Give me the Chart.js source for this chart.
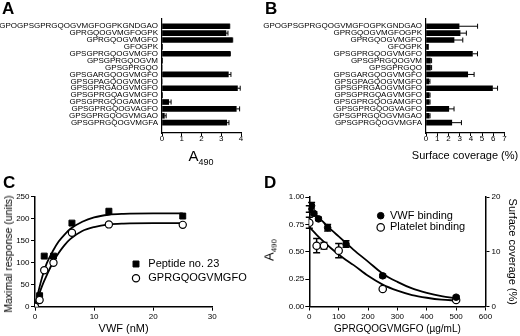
<!DOCTYPE html>
<html lang="en">
<head>
<meta charset="UTF-8">
<title>Peptide binding</title>
<script src="https://cdn.jsdelivr.net/npm/chart.js@4"></script>
<style>
    body { margin: 0; background: #fff; width: 520px; height: 336px; position: relative; overflow: hidden;
           font-family: "Liberation Sans", Arial, sans-serif; color: #000; }
    canvas { position: absolute; }
    .letter { position: absolute; font-weight: bold; font-size: 17px; line-height: 17px; }
    .txt { position: absolute; white-space: nowrap; }
    .txt span { position: relative; }
</style>
</head>
<body>
<canvas id="chartA" width="260" height="170" style="left:0;top:0"></canvas>
<canvas id="chartB" width="260" height="170" style="left:260px;top:0"></canvas>
<canvas id="chartC" width="260" height="166" style="left:0;top:170px"></canvas>
<canvas id="chartD" width="260" height="166" style="left:260px;top:170px"></canvas>

<div class="letter" style="left:2px;top:0">A</div>
<div class="letter" style="left:265px;top:0">B</div>
<div class="letter" style="left:3px;top:174px">C</div>
<div class="letter" style="left:264px;top:174px">D</div>

<!-- axis titles that are too long for the axis, or need a subscript -->
<div class="txt" style="left:171px;top:147.5px;width:60px;text-align:center;font-size:15px;line-height:15px">A<span style="font-size:9px;top:4px">490</span></div>
<div class="txt" style="left:405px;top:148.5px;width:120px;text-align:center;font-size:11px;line-height:13px">Surface coverage (%)</div>
<div class="txt" style="left:8px;top:254px;transform:translate(-50%,-50%) rotate(-90deg);font-size:10.5px;line-height:12px">Maximal response (units)</div>
<div class="txt" style="left:269.5px;top:250px;transform:translate(-50%,-50%) rotate(-90deg);font-size:13px;line-height:13px">A<span style="font-size:8px;top:3px">490</span></div>

<script>
// peptides, top to bottom (panels A and B)
var peptides = ['GPOGPSGPRGQOGVMGFOGPKGNDGAO', 'GPRGQOGVMGFOGPK', 'GPRGQOGVMGFO', 'GFOGPK',
    'GPSGPRGQOGVMGFO', 'GPSGPRGQOGVM', 'GPSGPRGQO', 'GPSGARGQOGVMGFO', 'GPSGPAGQOGVMGFO',
    'GPSGPRGAOGVMGFO', 'GPSGPRGQAGVMGFO', 'GPSGPRGQOGAMGFO', 'GPSGPRGQOGVAGFO',
    'GPSGPRGQOGVMGAO', 'GPSGPRGQOGVMGFA'];

// A: VWF binding (A490)
var a490 = [3.41, 3.24, 3.55, 0.03, 3.43, 0.02, 0, 3.36, 0, 3.82, 0.03, 0.34, 3.76, 0.12, 3.28];
var a490Err = [0.02, 0.1, 0.03, 0, 0.03, 0, 0, 0.13, 0, 0.14, 0, 0.12, 0.17, 0.09, 0.11];
var aTicks = [0, 1, 2, 3, 4];

// B: platelet surface coverage (%)
var coverage = [2.95, 3.04, 2.5, 0.22, 4.14, 0.4, 0.4, 3.72, 0.25, 5.93, 0.28, 0.28, 2.03, 0.28, 2.3];
var coverageErr = [1.65, 0.56, 0.78, 0, 0.45, 0.1, 0.1, 0.57, 0.1, 0.45, 0.08, 0.08, 0.47, 0.08, 0.86];
var bTicks = [0, 1, 2, 3, 4, 5, 6, 7];

// C: maximal response vs VWF (nM)
var vwfNM = [0, 0.78, 1.56, 3.125, 6.25, 12.5, 25];
var pep23 = [0, 25, 115, 115, 190, 217, 206];
var gprC = [0, 15, 83, 100, 168, 187, 186];
var fitXC = [0, 0.5, 1, 1.5, 2, 3, 4, 5, 6, 8, 10, 12.5, 15, 20, 25];
var fitPep23 = [0, 30, 57, 80, 99, 126, 148, 164, 177, 193, 203, 209, 211, 212, 212];
var fitGprC = [0, 20, 40, 57, 72, 100, 122, 140, 154, 172, 181, 187, 189, 190, 190];

// D: inhibition by GPRGQOGVMGFO (ug/mL)
var concVwf = [0, 7.8, 15.6, 31.25, 62.5, 125, 250, 500];
var vwfBinding = [0.89, 0.92, 0.85, 0.80, 0.72, 0.57, 0.28, 0.085];
var vwfBindingErr = [0.03, 0.03, 0.015, 0.015, 0.03, 0.03, 0.015, 0.01];
var concPlt = [0, 25, 50, 100, 250, 500];
var pltBinding = [15.3, 11.1, 11.1, 10.2, 3.2, 1.2];
var pltBindingErr = [1.0, 1.3, 0.6, 1.3, 0.2, 0.2];
var fitXD = [0, 25, 50, 75, 100, 125, 150, 200, 250, 300, 350, 400, 450, 500];
var fitVwf = [0.90, 0.83, 0.765, 0.70, 0.64, 0.58, 0.52, 0.41, 0.30, 0.225, 0.165, 0.125, 0.095, 0.075];
var fitPlt = [14.5, 13.1, 11.8, 10.6, 9.5, 8.5, 7.6, 5.6, 4.0, 2.9, 2.1, 1.6, 1.25, 1.1];

var F = '"Liberation Sans", Arial, sans-serif';
Chart.defaults.font.family = F;
Chart.defaults.color = '#000';

function pairs(xs, ys) {
    return xs.map(function(x, i) { return {x: x, y: ys[i]}; });
}

function tickMarks(len) {
    return {display: true, drawOnChartArea: false, drawTicks: true, tickLength: len, color: '#000', lineWidth: 1};
}

// error bars, drawn under the marks
var errorBars = {
    id: 'errorBars',
    beforeDatasetsDraw: function(chart, args, opts) {
        var ctx = chart.ctx;
        var horiz = chart.options.indexAxis === 'y';
        ctx.save();
        ctx.strokeStyle = '#000';
        ctx.lineWidth = opts.width;
        chart.data.datasets.forEach(function(ds, di) {
            if (!ds.errors) return;
            var meta = chart.getDatasetMeta(di);
            var vScale = chart.scales[horiz ? meta.xAxisID : meta.yAxisID];
            meta.data.forEach(function(el, i) {
                var e = ds.errors[i];
                if (!e) return;
                ctx.beginPath();
                if (horiz) {
                    var x1 = vScale.getPixelForValue(ds.data[i].x + e);
                    ctx.moveTo(el.x, el.y); ctx.lineTo(x1, el.y);
                    ctx.moveTo(x1, el.y - opts.cap); ctx.lineTo(x1, el.y + opts.cap);
                } else {
                    var y1 = vScale.getPixelForValue(ds.data[i].y + e);
                    var y2 = vScale.getPixelForValue(ds.data[i].y - e);
                    ctx.moveTo(el.x, y1); ctx.lineTo(el.x, y2);
                    ctx.moveTo(el.x - opts.cap, y1); ctx.lineTo(el.x + opts.cap, y1);
                    ctx.moveTo(el.x - opts.cap, y2); ctx.lineTo(el.x + opts.cap, y2);
                }
                ctx.stroke();
            });
        });
        ctx.restore();
    }
};

// small legend placed inside the plot
var legendAt = {
    id: 'legendAt',
    afterDraw: function(chart, args, opts) {
        if (!opts.x) return;
        var ctx = chart.ctx;
        var row = 0;
        ctx.save();
        ctx.font = opts.size + 'px ' + F;
        ctx.textBaseline = 'middle';
        chart.data.datasets.forEach(function(ds) {
            if (!ds.inLegend) return;
            var y = opts.y + row * opts.gap;
            ctx.fillStyle = ds.backgroundColor;
            ctx.strokeStyle = ds.borderColor;
            ctx.lineWidth = ds.borderWidth;
            Chart.helpers.drawPoint(ctx, {pointStyle: ds.pointStyle, radius: ds.pointRadius, rotation: 0, borderWidth: ds.borderWidth}, opts.x, y);
            ctx.fillStyle = '#000';
            ctx.fillText(ds.label, opts.x + opts.textGap, y);
            row++;
        });
        ctx.restore();
    }
};

function barPanel(id, values, errs, ticks, yWidth, padRight) {
    return new Chart(document.getElementById(id), {
        type: 'bar',
        data: {
            datasets: [{
                data: peptides.map(function(p, i) { return {x: values[i], y: i}; }),
                errors: errs,
                backgroundColor: '#000',
                borderWidth: 0,
                barThickness: 5
            }]
        },
        options: {
            indexAxis: 'y',
            responsive: false,
            animation: false,
            layout: {padding: {left: 0, top: 19, right: padRight, bottom: 0}},
            plugins: {
                legend: {display: false},
                tooltip: {enabled: false},
                errorBars: {width: 1, cap: 2.5}
            },
            scales: {
                x: {
                    type: 'linear', min: 0, max: ticks[ticks.length - 1],
                    afterBuildTicks: function(s) { s.ticks = ticks.map(function(v) { return {value: v}; }); },
                    ticks: {font: {size: 8}, color: '#000', padding: -2},
                    grid: tickMarks(3),
                    border: {display: true, color: '#000', width: 1.2},
                    afterFit: function(s) { s.height = 37; }
                },
                y: {
                    type: 'linear', reverse: true, min: -0.5, max: 14.95,
                    afterBuildTicks: function(s) { s.ticks = peptides.map(function(p, i) { return {value: i}; }); },
                    ticks: {autoSkip: false, font: {size: 8}, color: '#000', padding: 4,
                        callback: function(v) { return peptides[v]; }},
                    grid: {display: false, drawTicks: false},
                    border: {display: true, color: '#000', width: 1.2},
                    afterFit: function(s) { s.width = yWidth; }
                }
            }
        },
        plugins: [errorBars]
    });
}

barPanel('chartA', a490, a490Err, aTicks, 162, 19);
barPanel('chartB', coverage, coverageErr, bTicks, 166, 15.5);

// C
new Chart(document.getElementById('chartC'), {
    type: 'scatter',
    data: {
        datasets: [
            {label: 'Peptide no. 23', inLegend: true, data: pairs(vwfNM, pep23), pointStyle: 'rect', pointRadius: 4.2,
             backgroundColor: '#000', borderColor: '#000', borderWidth: 1, order: 1},
            {label: 'GPRGQOGVMGFO', inLegend: true, data: pairs(vwfNM, gprC), pointStyle: 'circle', pointRadius: 3.6,
             backgroundColor: '#fff', borderColor: '#000', borderWidth: 1.2, order: 0},
            {label: 'fit 23', data: pairs(fitXC, fitPep23), showLine: true, pointRadius: 0, borderColor: '#000',
             borderWidth: 1.8, cubicInterpolationMode: 'monotone', order: 2},
            {label: 'fit GPRG', data: pairs(fitXC, fitGprC), showLine: true, pointRadius: 0, borderColor: '#000',
             borderWidth: 1.8, cubicInterpolationMode: 'monotone', order: 2}
        ]
    },
    options: {
        responsive: false,
        animation: false,
        layout: {padding: {left: 0, top: 26.7, right: 47.7, bottom: 0}},
        plugins: {
            legend: {display: false},
            tooltip: {enabled: false},
            legendAt: {x: 136, y: 94, gap: 14.3, textGap: 12.3, size: 11}
        },
        scales: {
            x: {
                type: 'linear', min: 0, max: 30,
                ticks: {stepSize: 10, font: {size: 8}, color: '#000', padding: 1},
                grid: tickMarks(4),
                border: {display: true, color: '#000', width: 1.5},
                title: {display: true, text: 'VWF (nM)', font: {size: 11}, color: '#000', padding: {top: 0, bottom: 0}},
                afterFit: function(s) { s.height = 29.3; }
            },
            y: {
                type: 'linear', min: 0, max: 250,
                ticks: {stepSize: 50, font: {size: 8}, color: '#000', padding: 1.5},
                grid: tickMarks(4),
                border: {display: true, color: '#000', width: 1.5},
                afterFit: function(s) { s.width = 35; }
            }
        }
    },
    plugins: [legendAt]
});

// D
new Chart(document.getElementById('chartD'), {
    type: 'scatter',
    data: {
        datasets: [
            {label: 'VWF binding', inLegend: true, data: pairs(concVwf, vwfBinding), errors: vwfBindingErr, yAxisID: 'y',
             pointStyle: 'circle', pointRadius: 3.3, backgroundColor: '#000', borderColor: '#000', borderWidth: 1, order: 0},
            {label: 'Platelet binding', inLegend: true, data: pairs(concPlt, pltBinding), errors: pltBindingErr, yAxisID: 'y1',
             pointStyle: 'circle', pointRadius: 3.7, backgroundColor: '#fff', borderColor: '#000', borderWidth: 1.2, order: 0},
            {label: 'fit VWF', data: pairs(fitXD, fitVwf), yAxisID: 'y', showLine: true, pointRadius: 0, borderColor: '#000',
             borderWidth: 1.8, cubicInterpolationMode: 'monotone', order: 2},
            {label: 'fit platelet', data: pairs(fitXD, fitPlt), yAxisID: 'y1', showLine: true, pointRadius: 0, borderColor: '#000',
             borderWidth: 1.8, cubicInterpolationMode: 'monotone', order: 2}
        ]
    },
    options: {
        responsive: false,
        animation: false,
        layout: {padding: {left: 0, top: 27, right: 0, bottom: 0}},
        plugins: {
            legend: {display: false},
            tooltip: {enabled: false},
            errorBars: {width: 1.5, cap: 3.5},
            legendAt: {x: 120.7, y: 45.7, gap: 11.7, textGap: 9.3, size: 11}
        },
        scales: {
            x: {
                type: 'linear', min: 0, max: 600,
                ticks: {stepSize: 100, font: {size: 8}, color: '#000', padding: 1},
                grid: tickMarks(4),
                border: {display: true, color: '#000', width: 1.5},
                title: {display: true, text: 'GPRGQOGVMGFO (\u00b5g/mL)', font: {size: 10}, color: '#000', padding: {top: 0, bottom: 1}},
                afterFit: function(s) { s.height = 29.5; }
            },
            y: {
                type: 'linear', position: 'left', min: 0, max: 1,
                ticks: {stepSize: 0.25, font: {size: 8}, color: '#000', padding: 1,
                    callback: function(v) { return v.toFixed(2); }},
                grid: tickMarks(4),
                border: {display: true, color: '#000', width: 1.5},
                afterFit: function(s) { s.width = 49.3; }
            },
            y1: {
                type: 'linear', position: 'right', min: 0, max: 20,
                ticks: {stepSize: 10, font: {size: 8}, color: '#000', padding: 2},
                grid: tickMarks(4),
                border: {display: true, color: '#000', width: 1.5},
                title: {display: true, text: 'Surface coverage (%)', font: {size: 11}, color: '#000', padding: {top: 1.7, bottom: 0}},
                afterFit: function(s) { s.width = 34.5; }
            }
        }
    },
    plugins: [errorBars, legendAt]
});
</script>
</body>
</html>
